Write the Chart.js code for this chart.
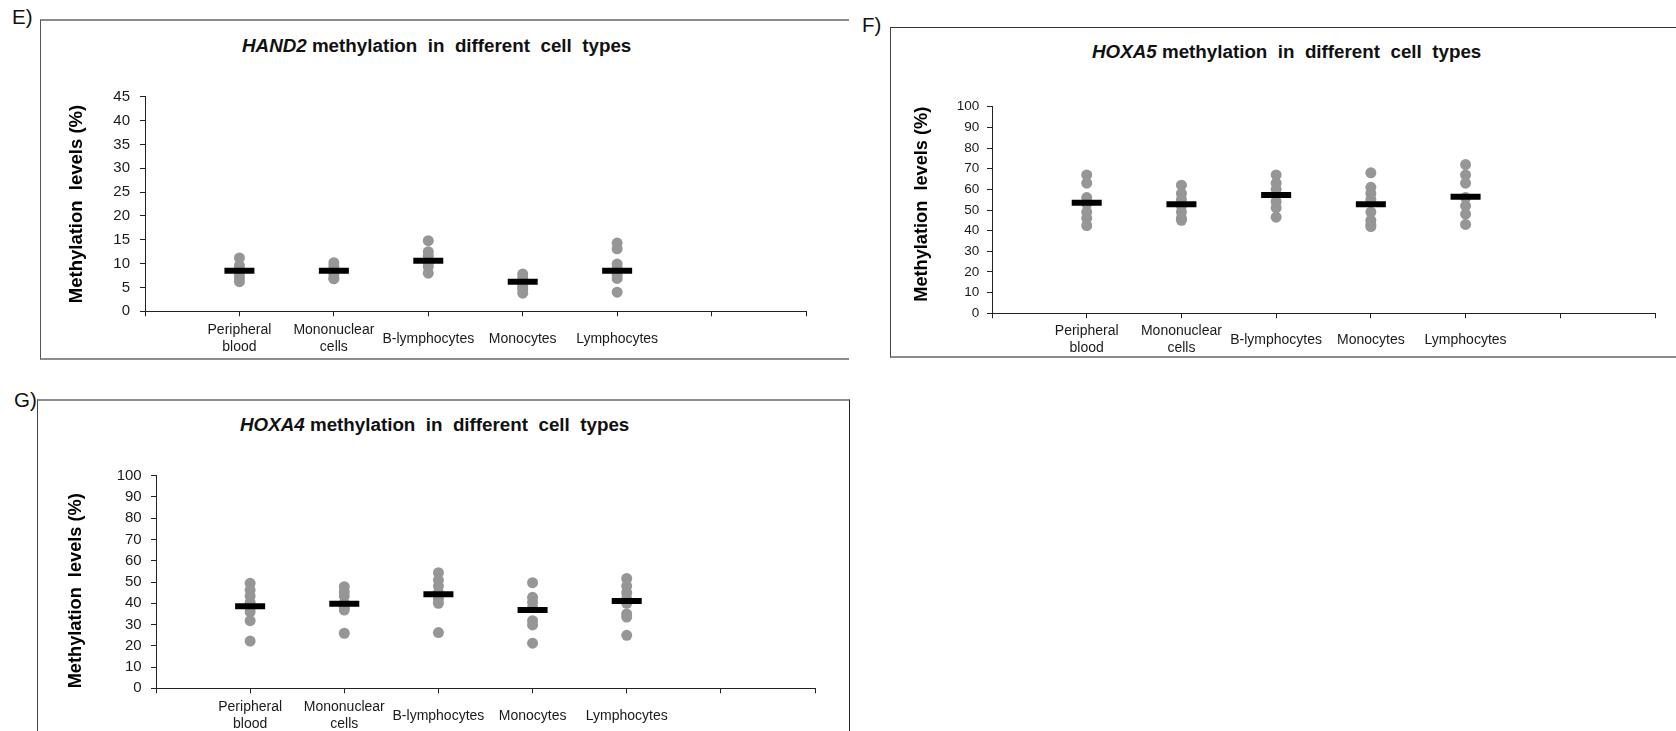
<!DOCTYPE html>
<html>
<head>
<meta charset="utf-8">
<script src="https://cdn.jsdelivr.net/npm/chart.js@4.4.0/dist/chart.umd.min.js"></script>
<style>
  body { margin: 0; width: 1676px; height: 731px; background: #fff; position: relative; overflow: hidden;
         font-family: "Liberation Sans", Arial, sans-serif; color: #111; }
  canvas { position: absolute; }
  .box { position: absolute; box-sizing: border-box; }
  .lbl { position: absolute; font-size: 20.5px; line-height: 1; white-space: pre; }
  .ttl { position: absolute; font-size: 18.8px; font-weight: bold; line-height: 1; white-space: pre; }
</style>
</head>
<body>

<div class="box" style="left:40px;top:19px;width:809px;height:341px;border-top:2px solid #8c8c8c;border-bottom:2px solid #8c8c8c;border-left:1.5px solid #555;"></div>
<div class="box" style="left:890px;top:27px;width:786px;height:331px;border-top:1.5px solid #333;border-bottom:2px solid #8c8c8c;border-left:1.5px solid #444;"></div>
<div class="box" style="left:37px;top:399px;width:813px;height:340px;border-top:2px solid #8c8c8c;border-left:1.5px solid #444;border-right:1.5px solid #222;"></div>

<div class="lbl" style="left:12px;top:6.6px;">E)</div>
<div class="lbl" style="left:862px;top:14.6px;">F)</div>
<div class="lbl" style="left:14px;top:389.6px;">G)</div>

<div class="ttl" style="left:242px;top:37.4px;"><i>HAND2</i> methylation  in  different  cell  types</div>
<div class="ttl" style="left:1092px;top:43.4px;"><i>HOXA5</i> methylation  in  different  cell  types</div>
<div class="ttl" style="left:240px;top:416.4px;"><i>HOXA4</i> methylation  in  different  cell  types</div>

<canvas id="chartE" width="809" height="360" style="left:40px;top:20px;"></canvas>
<canvas id="chartF" width="786" height="345" style="left:890px;top:27px;"></canvas>
<canvas id="chartG" width="812" height="331" style="left:37px;top:400px;"></canvas>

<script>
  // categories along the x axis (positions 1..5, axis runs 0..7)
  const categories = [["Peripheral", "blood"], ["Mononuclear", "cells"], "B-lymphocytes", "Monocytes", "Lymphocytes"];

  // HAND2 (panel E) – individual samples and means, % methylation
  const hand2Dots = [
    [11.2, 9.6, 8.8, 7.8, 7.0, 6.2],
    [10.2, 9.4, 8.6, 7.8, 7.0, 6.8],
    [14.8, 12.5, 11.6, 10.2, 9.4, 8.0],
    [7.8, 7.0, 6.0, 5.2, 4.6, 3.8],
    [14.3, 13.1, 9.9, 9.0, 7.6, 6.9, 4.0]
  ];
  const hand2Means = [8.5, 8.5, 10.6, 6.2, 8.5];

  // HOXA5 (panel F)
  const hoxa5Dots = [
    [67, 63, 56, 53, 49, 46, 42.5],
    [62, 58, 55, 52, 49, 46, 45],
    [67, 63, 60, 57, 54, 51, 46.5],
    [68, 61, 58, 55, 49, 45, 43, 42],
    [72, 67, 63, 56, 52, 48, 43]
  ];
  const hoxa5Means = [53.5, 52.8, 57.3, 52.8, 56.4];

  // HOXA4 (panel G)
  const hoxa4Dots = [
    [49.4, 46.2, 43.4, 40.3, 38, 36.0, 31.8, 22.2],
    [47.8, 45.4, 43.4, 40, 38, 36.8, 25.9],
    [54.4, 50.9, 48.1, 45, 42, 40, 26.2],
    [49.7, 42.8, 40.5, 38, 31.8, 29.8, 21.2],
    [51.7, 48.1, 45, 42, 40, 35, 33.5, 24.9]
  ];
  const hoxa4Means = [38.6, 39.8, 44.2, 36.8, 41.1];

  const yTitle = "Methylation  levels (%)";

  Chart.defaults.font.family = '"Liberation Sans", Arial, sans-serif';
  Chart.defaults.color = "#1a1a1a";

  function makeChart(id, dots, means, o) {
    const dotData = [];
    dots.forEach((vals, i) => vals.forEach(v => dotData.push({ x: i + 1, y: v })));
    const meanData = means.map((v, i) => ({ x: i + 1, y: v }));

    return new Chart(document.getElementById(id), {
      type: "scatter",
      data: {
        datasets: [
          {
            data: meanData,
            order: 0,
            pointStyle: "line",
            pointRadius: 15,
            pointHoverRadius: 15,
            borderColor: "#000",
            borderWidth: 6,
            pointBorderWidth: 6
          },
          {
            data: dotData,
            order: 1,
            pointRadius: 5.5,
            pointHoverRadius: 5.5,
            backgroundColor: "#969696",
            borderWidth: 0
          }
        ]
      },
      options: {
        responsive: false,
        animation: false,
        events: [],
        layout: { padding: { top: o.padTop, right: o.padRight, left: 0, bottom: 0 } },
        plugins: { legend: { display: false }, tooltip: { enabled: false } },
        scales: {
          x: {
            type: "linear",
            min: 0,
            max: 7,
            afterFit: s => { s.height = o.xHeight; },
            ticks: {
              stepSize: 1,
              autoSkip: false,
              maxRotation: 0,
              padding: o.xPad,
              font: { size: 14 },
              crossAlign: "center",
              callback: v => categories[v - 1] || ""
            },
            grid: { drawOnChartArea: false, tickLength: 5, color: "#222" },
            border: { color: "#222", width: 1 }
          },
          y: {
            min: 0,
            max: o.yMax,
            afterFit: s => { s.width = o.yWidth; },
            ticks: { stepSize: o.yStep, padding: o.yPad, font: { size: o.yFont } },
            grid: { drawOnChartArea: false, tickLength: 5, color: "#222" },
            border: { color: "#222", width: 1 },
            title: {
              display: true,
              text: yTitle,
              align: o.titleAlign,
              color: "#000",
              font: { size: o.titleFont, weight: "bold" },
              padding: { top: o.titleOffset, bottom: 0 }
            }
          }
        }
      }
    });
  }

  makeChart("chartE", hand2Dots, hand2Means, {
    padTop: 76.7, padRight: 43, xHeight: 68.7, yWidth: 105, xPad: 14,
    yMax: 45, yStep: 5, yPad: 10, yFont: 15,
    titleAlign: "center", titleFont: 18.5, titleOffset: 25.7
  });

  makeChart("chartF", hoxa5Dots, hoxa5Means, {
    padTop: 79.7, padRight: 13, xHeight: 58.7, yWidth: 102, xPad: 13,
    yMax: 100, yStep: 10, yPad: 7.7, yFont: 13.5,
    titleAlign: "end", titleFont: 18.2, titleOffset: 20.9
  });

  makeChart("chartG", hoxa4Dots, hoxa4Means, {
    padTop: 75.7, padRight: 34, xHeight: 42.7, yWidth: 119, xPad: 14,
    yMax: 100, yStep: 10, yPad: 9.3, yFont: 15,
    titleAlign: "start", titleFont: 18.2, titleOffset: 28
  });
</script>
</body>
</html>
